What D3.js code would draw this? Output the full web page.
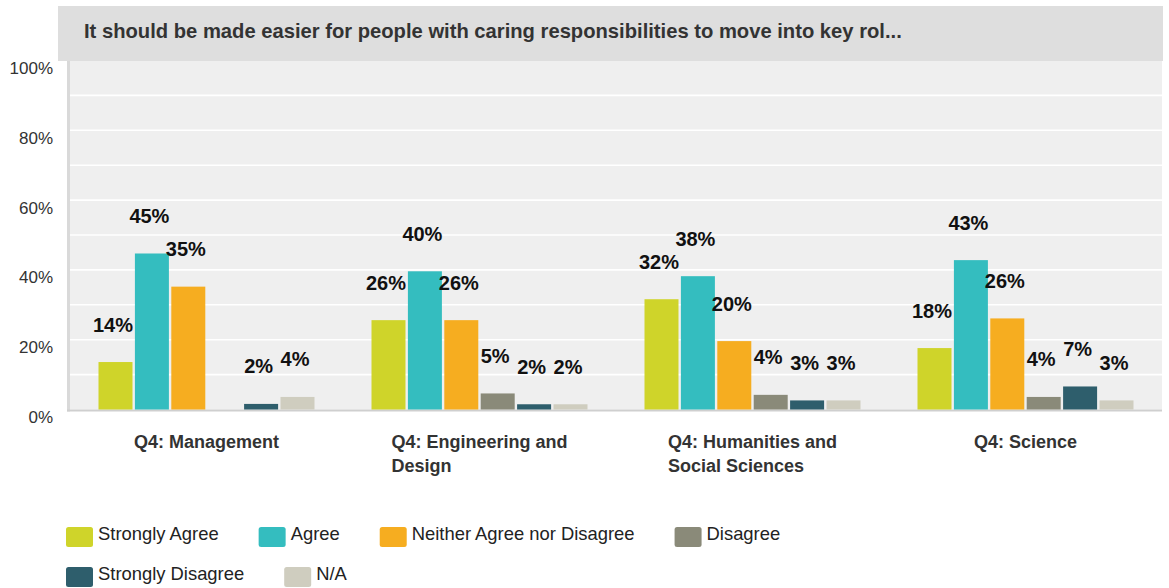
<!DOCTYPE html>
<html>
<head>
<meta charset="utf-8">
<script src="https://cdn.jsdelivr.net/npm/d3@7/dist/d3.min.js"></script>
<style>
  html, body { margin: 0; padding: 0; background: #ffffff; }
  svg { display: block; font-family: "Liberation Sans", Arial, Helvetica, sans-serif; }
</style>
</head>
<body>
<svg id="chart" width="1169" height="588"></svg>
<script>
// ---- data ----
const title = "It should be made easier for people with caring responsibilities to move into key rol...";
const groups = ["Q4: Management", "Q4: Engineering and Design", "Q4: Humanities and Social Sciences", "Q4: Science"];
const series = ["Strongly Agree", "Agree", "Neither Agree nor Disagree", "Disagree", "Strongly Disagree", "N/A"];
const colors = ["#cfd42a", "#34bdbf", "#f6ad20", "#8a8a79", "#2e5e6c", "#cfcdbf"];
const stronglyAgree = [13.6, 25.6, 31.6, 17.6];
const agree         = [44.7, 39.6, 38.2, 42.8];
const neither       = [35.2, 25.6, 19.6, 26.1];
const disagree      = [0.0, 4.6, 4.2, 3.6];
const stronglyDis   = [1.6, 1.5, 2.6, 6.6];
const na            = [3.6, 1.5, 2.6, 2.6];
const yTicks = [0, 20, 40, 60, 80, 100];
const yGrid = [10, 20, 30, 40, 50, 60, 70, 80, 90];

const seriesValues = [stronglyAgree, agree, neither, disagree, stronglyDis, na];

const svg = d3.select("#chart");

// ---- layout ----
const plotL = 70, plotR = 1162, plotT = 60.5, plotB = 409.5;

// title band
svg.append("rect").attr("x", 58).attr("y", 6).attr("width", 1163 - 58).attr("height", 55).attr("fill", "#dedede");
svg.append("text").attr("x", 84).attr("y", 38)
  .attr("font-size", 20.2).attr("font-weight", "bold").attr("fill", "#333333")
  .text(title);

// plot background
svg.append("rect").attr("x", plotL).attr("y", 61).attr("width", plotR - plotL).attr("height", plotB - 61).attr("fill", "#efefef");

const y = d3.scaleLinear().domain([0, 100]).range([plotB, plotT]);
const x0 = d3.scaleBand().domain(groups).range([plotL, plotR]).padding(0);
const inner = 216;
const x1 = d3.scaleBand().domain(series)
  .range([(x0.bandwidth() - inner) / 2, (x0.bandwidth() + inner) / 2])
  .paddingInner(0.066).paddingOuter(0);

// grid lines
svg.append("g").selectAll("line").data(yGrid).join("line")
  .attr("x1", plotL).attr("x2", plotR)
  .attr("y1", d => y(d)).attr("y2", d => y(d))
  .attr("stroke", "#ffffff").attr("stroke-width", 1.6);

// axes lines
svg.append("rect").attr("x", 67).attr("y", 61).attr("width", 3).attr("height", plotB - 61 + 2).attr("fill", "#d9d9d9");
svg.append("rect").attr("x", 67).attr("y", plotB).attr("width", plotR - 67).attr("height", 2).attr("fill", "#cfcfcf");

// y tick labels
svg.append("g").selectAll("text").data(yTicks).join("text")
  .attr("x", 53).attr("y", d => y(d) + 13.5)
  .attr("text-anchor", "end").attr("font-size", 17).attr("fill", "#333333")
  .text(d => d + "%");

// bars
const barData = [];
groups.forEach((g, gi) => {
  series.forEach((s, si) => {
    barData.push({ g, s, si, v: seriesValues[si][gi] });
  });
});

const bars = svg.append("g");
bars.selectAll("rect").data(barData).join("rect")
  .attr("x", d => x0(d.g) + x1(d.s))
  .attr("y", d => y(d.v))
  .attr("width", x1.bandwidth())
  .attr("height", d => plotB - y(d.v))
  .attr("fill", d => colors[d.si]);

// data labels
bars.selectAll("text").data(barData.filter(d => Math.round(d.v) > 0)).join("text")
  .attr("x", d => x0(d.g) + x1(d.s) + x1.bandwidth() / 2 - 2.5)
  .attr("y", d => y(d.v) - 30.5)
  .attr("text-anchor", "middle").attr("font-size", 20).attr("font-weight", "bold").attr("fill", "#111111")
  .text(d => Math.round(d.v) + "%");

// x category labels (wrapped, left-aligned block centered on group)
const xl = svg.append("g");
groups.forEach(g => {
  const words = g.split(" ");
  const t = xl.append("text").attr("font-size", 18).attr("font-weight", "bold").attr("fill", "#333333");
  const lines = [];
  let cur = [];
  const probe = t.append("tspan");
  words.forEach(w => {
    const test = cur.concat([w]).join(" ");
    probe.text(test);
    if (probe.node().getComputedTextLength() > 200 && cur.length) {
      lines.push(cur.join(" "));
      cur = [w];
    } else cur.push(w);
  });
  lines.push(cur.join(" "));
  probe.remove();
  let maxW = 0;
  const spans = lines.map((ln, i) => {
    const sp = t.append("tspan").attr("y", 448 + i * 24).text(ln);
    maxW = Math.max(maxW, sp.node().getComputedTextLength());
    return sp;
  });
  const cx = x0(g) + x0.bandwidth() / 2;
  spans.forEach(sp => sp.attr("x", cx - maxW / 2));
});

// legend
const lg = svg.append("g");
let lx = 66, ly = 527;
series.forEach((s, i) => {
  const item = lg.append("g");
  const txt = item.append("text").attr("font-size", 18.4).attr("fill", "#222222").text(s);
  const w = 32 + txt.node().getComputedTextLength();
  if (lx + w > 900) { lx = 66; ly += 40; }
  item.append("rect").attr("x", lx).attr("y", ly).attr("width", 27).attr("height", 20).attr("rx", 2.5).attr("fill", colors[i]);
  txt.attr("x", lx + 32).attr("y", ly + 12.5);
  lx += w + 40;
});
</script>
</body>
</html>
